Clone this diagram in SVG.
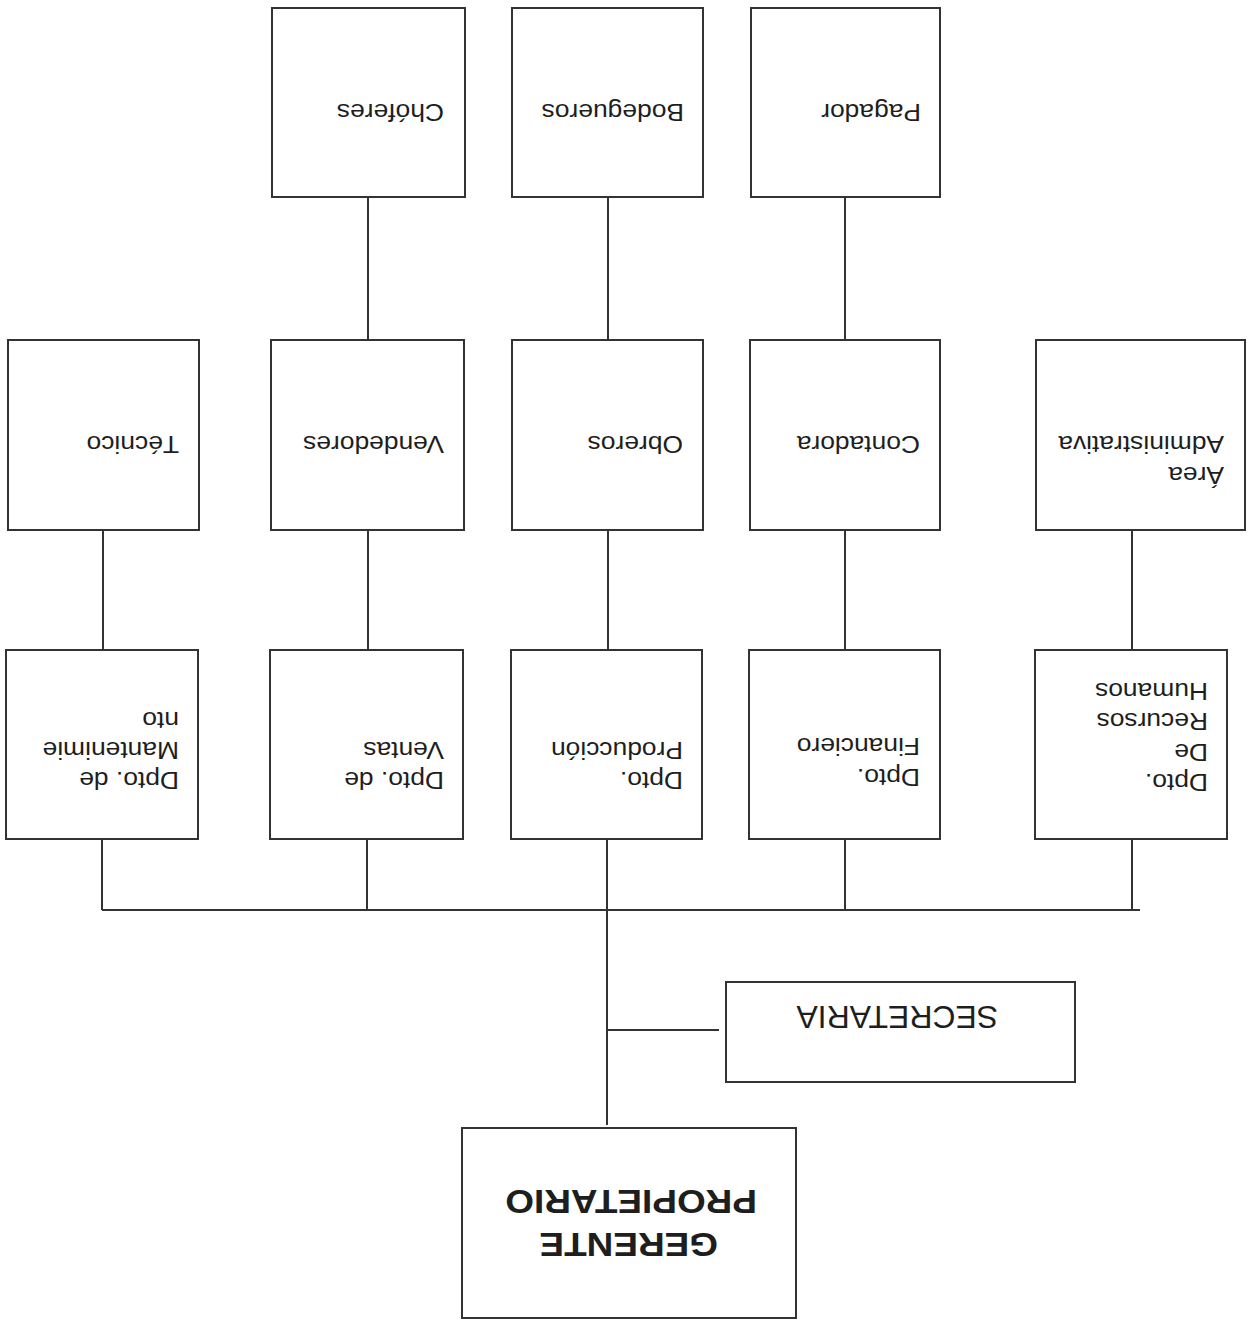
<svg xmlns="http://www.w3.org/2000/svg" width="1249" height="1321" viewBox="0 0 1249 1321">
<style>
.box{fill:#fff;stroke:#333;stroke-width:2}
.ln{stroke:#333;stroke-width:2;fill:none}
.t{font-family:"Liberation Sans",Arial,sans-serif;font-size:24px;fill:#1e1e1e}
.s{font-size:31px}
.b{font-size:33px;font-weight:bold}
</style>
<rect width="1249" height="1321" fill="#fff"/>
<g id="connectors">
<path class="ln" d="M368 197V340M608 197V340M845 197V340"/>
<path class="ln" d="M103 530V650M368 530V650M608 530V650M845 530V650M1132 530V650"/>
<path class="ln" d="M102 839V910M367 839V910M607 839V910M845 839V910M1132 839V910"/>
<path class="ln" d="M102 910H1140"/>
<path class="ln" d="M607 910V1125M607 1030H719"/>
</g>
<g id="choferes"><rect class="box" x="272" y="8" width="193" height="189"/><text class="t" transform="translate(444,104) rotate(180) scale(1.1,1)">Chóferes</text></g>
<g id="bodegueros"><rect class="box" x="512" y="8" width="191" height="189"/><text class="t" transform="translate(684,104) rotate(180) scale(1.1,1)">Bodegueros</text></g>
<g id="pagador"><rect class="box" x="751" y="8" width="189" height="189"/><text class="t" transform="translate(921,104) rotate(180) scale(1.1,1)">Pagador</text></g>
<g id="tecnico"><rect class="box" x="8" y="340" width="191" height="190"/><text class="t" transform="translate(179,436) rotate(180) scale(1.1,1)">Técnico</text></g>
<g id="vendedores"><rect class="box" x="271" y="340" width="193" height="190"/><text class="t" transform="translate(444,436) rotate(180) scale(1.1,1)">Vendedores</text></g>
<g id="obreros"><rect class="box" x="512" y="340" width="191" height="190"/><text class="t" transform="translate(683,436) rotate(180) scale(1.1,1)">Obreros</text></g>
<g id="contadora"><rect class="box" x="750" y="340" width="190" height="190"/><text class="t" transform="translate(920,436) rotate(180) scale(1.1,1)">Contadora</text></g>
<g id="area-admin"><rect class="box" x="1036" y="340" width="209" height="190"/><text class="t" transform="translate(1224,467) rotate(180) scale(1.1,1)"><tspan x="0">Área</tspan><tspan x="0" dy="31">Administrativa</tspan></text></g>
<g id="mantenimiento"><rect class="box" x="6" y="650" width="192" height="189"/><text class="t" transform="translate(179,772) rotate(180) scale(1.1,1)"><tspan x="0">Dpto. de</tspan><tspan x="0" dy="30">Mantenimie</tspan><tspan x="0" dy="30">nto</tspan></text></g>
<g id="ventas"><rect class="box" x="270" y="650" width="193" height="189"/><text class="t" transform="translate(444,772) rotate(180) scale(1.1,1)"><tspan x="0">Dpto. de</tspan><tspan x="0" dy="30">Ventas</tspan></text></g>
<g id="produccion"><rect class="box" x="511" y="650" width="191" height="189"/><text class="t" transform="translate(683,772) rotate(180) scale(1.1,1)"><tspan x="0">Dpto.</tspan><tspan x="0" dy="30">Producción</tspan></text></g>
<g id="financiero"><rect class="box" x="749" y="650" width="191" height="189"/><text class="t" transform="translate(920,769) rotate(180) scale(1.1,1)"><tspan x="0">Dpto.</tspan><tspan x="0" dy="31">Financiero</tspan></text></g>
<g id="rrhh"><rect class="box" x="1035" y="650" width="192" height="189"/><text class="t" transform="translate(1208,774) rotate(180) scale(1.1,1)"><tspan x="0">Dpto.</tspan><tspan x="0" dy="30.5">De</tspan><tspan x="0" dy="30.5">Recursos</tspan><tspan x="0" dy="30.5">Humanos</tspan></text></g>
<g id="secretaria"><rect class="box" x="726" y="982" width="349" height="100"/><text class="t s" transform="translate(998,1006) rotate(180) scale(1.03,1)">SECRETARIA</text></g>
<g id="gerente"><rect class="box" x="462" y="1128" width="334" height="190"/><text class="t b" transform="translate(718,1233) rotate(180) scale(1.12,1)">GERENTE</text><text class="t b" transform="translate(757,1190) rotate(180) scale(1.12,1)">PROPIETARIO</text></g>
</svg>
